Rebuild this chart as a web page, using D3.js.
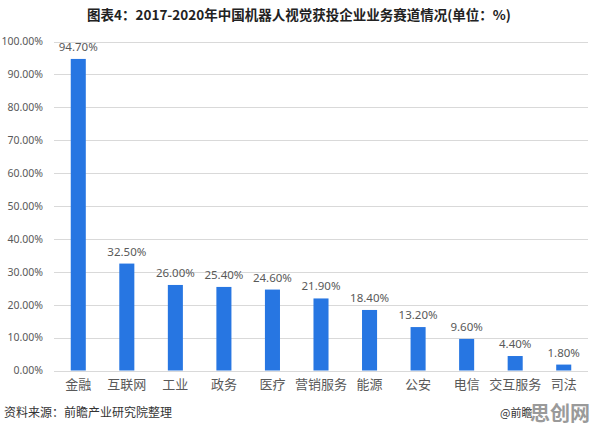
<!DOCTYPE html>
<html>
<head>
<meta charset="utf-8">
<script src="https://cdn.jsdelivr.net/npm/d3@7"></script>
<style>
  body { margin: 0; background: #fff; }
  text { font-family: "Noto Sans CJK SC", "Microsoft YaHei", sans-serif; }
</style>
</head>
<body>
<div id="chart"></div>
<script>
const categories = ["金融", "互联网", "工业", "政务", "医疗", "营销服务", "能源", "公安", "电信", "交互服务", "司法"];
const values = [94.7, 32.5, 26.0, 25.4, 24.6, 21.9, 18.4, 13.2, 9.6, 4.4, 1.8];
const yTicks = [0, 10, 20, 30, 40, 50, 60, 70, 80, 90, 100];

const W = 596, H = 430;
const plot = { left: 54, right: 588, top: 41.5, bottom: 370.5 };

const svg = d3.select("#chart").append("svg")
  .attr("width", W)
  .attr("height", H);

const x = d3.scaleBand()
  .domain(categories)
  .range([plot.left, plot.right])
  .paddingInner(0.69)
  .paddingOuter(0.345);

const y = d3.scaleLinear()
  .domain([0, 100])
  .range([plot.bottom, plot.top]);

// title
svg.append("text")
  .attr("x", 299)
  .attr("y", 20)
  .attr("text-anchor", "middle")
  .attr("font-size", 13.5)
  .attr("font-weight", "bold")
  .attr("fill", "#222")
  .text("图表4：2017-2020年中国机器人视觉获投企业业务赛道情况(单位：%)");

// gridlines
svg.append("g")
  .selectAll("line")
  .data(yTicks)
  .join("line")
  .attr("x1", plot.left)
  .attr("x2", plot.right)
  .attr("y1", d => Math.round(y(d)) + 0.5)
  .attr("y2", d => Math.round(y(d)) + 0.5)
  .attr("stroke", "#d9d9d9")
  .attr("stroke-width", 1);

// y axis labels
const yAxis = d3.axisLeft(y)
  .tickValues(yTicks)
  .tickSize(0)
  .tickPadding(0)
  .tickFormat(d => d.toFixed(2) + "%");

svg.append("g")
  .attr("transform", "translate(43,0)")
  .call(yAxis)
  .call(g => g.select(".domain").remove())
  .call(g => g.selectAll("text")
    .attr("font-size", 10.5)
    .attr("fill", "#595959")
    .style("font-family", "'Noto Sans', sans-serif"));

// bars
svg.append("g")
  .selectAll("rect")
  .data(values)
  .join("rect")
  .attr("x", (d, i) => x(categories[i]))
  .attr("y", d => y(d))
  .attr("width", x.bandwidth())
  .attr("height", d => y(0) - y(d))
  .attr("fill", "#2776e2");

// value labels
svg.append("g")
  .selectAll("text")
  .data(values)
  .join("text")
  .attr("x", (d, i) => x(categories[i]) + x.bandwidth() / 2)
  .attr("y", d => y(d) - 8)
  .attr("text-anchor", "middle")
  .attr("font-size", 11.5)
  .attr("fill", "#595959")
  .style("font-family", "'Noto Sans', sans-serif")
  .text(d => d.toFixed(2) + "%");

// x axis labels
const xAxis = d3.axisBottom(x).tickSize(0).tickPadding(0);
svg.append("g")
  .attr("transform", `translate(0,${plot.bottom + 5})`)
  .call(xAxis)
  .call(g => g.select(".domain").remove())
  .call(g => g.selectAll("text")
    .attr("dy", "1em")
    .attr("font-size", 13)
    .attr("fill", "#595959")
    .style("font-family", "'Noto Sans CJK SC', sans-serif"));

// footer
svg.append("text")
  .attr("x", 4)
  .attr("y", 417)
  .attr("font-size", 12)
  .attr("fill", "#333")
  .text("资料来源：前瞻产业研究院整理");

svg.append("text")
  .attr("x", 500)
  .attr("y", 417)
  .attr("font-size", 11)
  .attr("fill", "#333")
  .text("@前瞻");

// site watermark
svg.append("text")
  .attr("x", 530)
  .attr("y", 421)
  .attr("font-size", 20)
  .attr("font-weight", "bold")
  .attr("fill", "#9a9a9a")
  .text("思创网");
</script>
</body>
</html>
